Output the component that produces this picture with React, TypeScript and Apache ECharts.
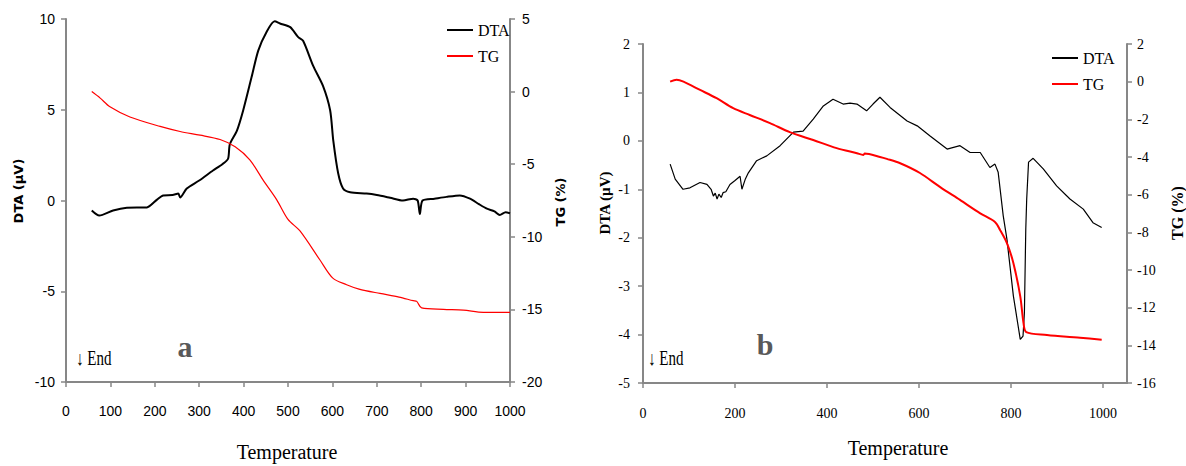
import React, { useEffect, useRef } from "react";
import * as echarts from "echarts";

// ---- Panel a ----
const dtaA_T = [58, 75, 106, 137, 182, 205, 219, 240, 253, 257, 272, 300, 331, 352, 365, 369, 385, 399, 418, 433, 452, 470, 482, 505, 523, 534, 557, 579, 595, 602, 613, 624, 640, 677, 700, 730, 759, 782, 792, 797, 803, 830, 857, 887, 910, 930, 948, 965, 977, 990, 1000];
const dtaA_V = [-0.55, -0.83, -0.55, -0.4, -0.38, 0.05, 0.28, 0.3, 0.38, 0.17, 0.66, 1.1, 1.65, 2.0, 2.3, 3.1, 3.85, 4.96, 6.8, 8.26, 9.3, 9.87, 9.75, 9.55, 9.0, 8.8, 7.4, 6.3, 4.96, 3.3, 1.5, 0.66, 0.45, 0.38, 0.3, 0.15, 0.0, 0.1, 0.0, -0.75, 0.0, 0.1, 0.2, 0.28, 0.1, -0.2, -0.45, -0.6, -0.8, -0.65, -0.7];
const tgA_T = [58, 77, 99, 144, 212, 257, 302, 347, 381, 414, 444, 475, 500, 527, 572, 601, 632, 660, 707, 750, 782, 790, 801, 850, 895, 940, 1000];
const tgA_V = [0, -0.45, -1.05, -1.75, -2.4, -2.75, -3.0, -3.3, -3.8, -4.7, -6.1, -7.47, -8.8, -9.6, -11.6, -12.85, -13.3, -13.6, -13.9, -14.15, -14.4, -14.45, -14.9, -15.0, -15.05, -15.2, -15.2];

// ---- Panel b ----
const dtaB_T = [59, 70, 87, 102, 124, 139, 148, 153, 157, 161, 165, 170, 174, 180, 189, 200, 211, 215, 222, 229, 247, 269, 298, 327, 348, 370, 392, 413, 435, 450, 465, 486, 500, 515, 537, 574, 596, 624, 661, 689, 711, 733, 754, 765, 772, 783, 791, 805, 820, 826, 829, 832, 834, 838, 848, 870, 899, 928, 957, 978, 997];
const dtaB_V = [-0.48, -0.79, -1.0, -0.97, -0.86, -0.9, -1.0, -1.14, -1.08, -1.2, -1.1, -1.17, -1.07, -1.05, -0.9, -0.82, -0.73, -1.0, -0.8, -0.66, -0.41, -0.31, -0.1, 0.18, 0.2, 0.45, 0.72, 0.86, 0.76, 0.78, 0.76, 0.62, 0.76, 0.9, 0.69, 0.41, 0.31, 0.1, -0.17, -0.1, -0.24, -0.24, -0.55, -0.48, -0.65, -1.55, -2.03, -3.2, -4.1, -4.03, -3.55, -1.82, -1.2, -0.44, -0.36, -0.58, -0.93, -1.2, -1.41, -1.69, -1.79];
const tgB_T = [59, 73, 88, 124, 160, 196, 232, 276, 319, 370, 421, 465, 479, 482, 515, 530, 559, 602, 646, 689, 733, 765, 776, 791, 805, 820, 827, 833, 878, 921, 950, 997];
const tgB_V = [0, 0.1, 0, -0.44, -0.88, -1.41, -1.77, -2.2, -2.68, -3.1, -3.53, -3.8, -3.89, -3.82, -4.0, -4.1, -4.33, -4.85, -5.6, -6.28, -6.99, -7.45, -7.87, -8.57, -9.63, -11.4, -12.8, -13.3, -13.45, -13.55, -13.6, -13.7];

const xTicksB = [0, 200, 400, 600, 800, 1000];

const zip = (t: number[], v: number[]) => t.map((x, i) => [x, v[i]]);

const SERIF = "'Liberation Serif', 'Times New Roman', serif";
const NARROW = "'Liberation Sans Narrow', 'Arial Narrow', 'Liberation Sans', sans-serif";
const BOLDSANS = "'DejaVu Sans', Verdana, sans-serif";
const AXIS_COLOR = "#878787";

export default function App() {
  const ref = useRef<HTMLDivElement>(null);
  useEffect(() => {
    if (!ref.current) return;
    const chart = echarts.init(ref.current, null, { renderer: "svg" });
    const axisLine = { show: true, onZero: false, lineStyle: { color: AXIS_COLOR, width: 2 } };
    const axisTick = { show: true, inside: false, length: 5, lineStyle: { color: AXIS_COLOR, width: 1.5 } };
    const plain = (v: number) => String(v);
    const labA = { color: "#000", fontFamily: NARROW, fontSize: 14, formatter: plain };
    const labB = { color: "#000", fontFamily: SERIF, fontSize: 14, formatter: plain };
    const legendBase = {
      orient: "vertical", padding: 0, icon: "rect",
      itemWidth: 26, itemHeight: 2, itemGap: 10,
      textStyle: { fontFamily: SERIF, fontSize: 16, color: "#000" },
    };
    const option: any = {
      animation: false,
      grid: [
        { left: 66, top: 19, width: 444, height: 363 },
        { left: 643, top: 44, width: 484, height: 339 },
      ],
      xAxis: [
        {
          gridIndex: 0, type: "value", min: 0, max: 1000, interval: 100,
          axisLine, axisTick, splitLine: { show: false },
          axisLabel: { ...labA, margin: 22 },
        },
        {
          gridIndex: 1, type: "value", min: 0, max: 1052, interval: 200,
          axisLine,
          axisTick: { ...axisTick, customValues: xTicksB },
          splitLine: { show: false },
          axisLabel: { ...labB, margin: 23, customValues: xTicksB },
        },
      ],
      yAxis: [
        {
          gridIndex: 0, type: "value", position: "left", min: -10, max: 10, interval: 5,
          axisLine, axisTick, splitLine: { show: false }, axisLabel: { ...labA, margin: 11 },
        },
        {
          gridIndex: 0, type: "value", position: "right", min: -20, max: 5, interval: 5,
          axisLine, axisTick, splitLine: { show: false }, axisLabel: { ...labA, margin: 12 },
        },
        {
          gridIndex: 1, type: "value", position: "left", min: -5, max: 2, interval: 1,
          axisLine, axisTick, splitLine: { show: false }, axisLabel: { ...labB, margin: 13 },
        },
        {
          gridIndex: 1, type: "value", position: "right", min: -16, max: 2, interval: 2,
          axisLine, axisTick, splitLine: { show: false }, axisLabel: { ...labB, margin: 10 },
        },
      ],
      legend: [
        { ...legendBase, data: ["DTA", "TG"], left: 447, top: 22 },
        {
          ...legendBase, data: ["DTA b", "TG b"], left: 1052, top: 50,
          formatter: (n: string) => n.split(" ")[0],
        },
      ],
      series: [
        {
          name: "DTA", type: "line", xAxisIndex: 0, yAxisIndex: 0, data: zip(dtaA_T, dtaA_V),
          showSymbol: false, symbol: "none", smooth: 0.25,
          lineStyle: { color: "#000", width: 2 }, itemStyle: { color: "#000" },
        },
        {
          name: "TG", type: "line", xAxisIndex: 0, yAxisIndex: 1, data: zip(tgA_T, tgA_V),
          showSymbol: false, symbol: "none", smooth: 0.3,
          lineStyle: { color: "#ff0000", width: 1.2 }, itemStyle: { color: "#ff0000" },
        },
        {
          name: "DTA b", type: "line", xAxisIndex: 1, yAxisIndex: 2, data: zip(dtaB_T, dtaB_V),
          showSymbol: false, symbol: "none",
          lineStyle: { color: "#000", width: 1.2 }, itemStyle: { color: "#000" },
        },
        {
          name: "TG b", type: "line", xAxisIndex: 1, yAxisIndex: 3, data: zip(tgB_T, tgB_V),
          showSymbol: false, symbol: "none", smooth: 0.3,
          lineStyle: { color: "#ff0000", width: 2 }, itemStyle: { color: "#ff0000" },
        },
      ],
      graphic: [
        { type: "text", x: 18, y: 191, rotation: Math.PI / 2, style: { text: "DTA (µV)", font: `bold 13px ${BOLDSANS}`, fill: "#000", textAlign: "center", textVerticalAlign: "middle" } },
        { type: "text", x: 560, y: 202, rotation: Math.PI / 2, style: { text: "TG (%)", font: `bold 13px ${BOLDSANS}`, fill: "#000", textAlign: "center", textVerticalAlign: "middle" } },
        { type: "text", x: 605, y: 203, rotation: Math.PI / 2, style: { text: "DTA (µV)", font: `bold 15px ${SERIF}`, fill: "#000", textAlign: "center", textVerticalAlign: "middle" } },
        { type: "text", x: 1177, y: 213, rotation: Math.PI / 2, style: { text: "TG (%)", font: `bold 16px ${SERIF}`, fill: "#000", textAlign: "center", textVerticalAlign: "middle" } },
        { type: "text", x: 287, y: 452, style: { text: "Temperature", font: `20px ${SERIF}`, fill: "#000", textAlign: "center", textVerticalAlign: "middle" } },
        { type: "text", x: 898, y: 448, style: { text: "Temperature", font: `20px ${SERIF}`, fill: "#000", textAlign: "center", textVerticalAlign: "middle" } },
        { type: "text", x: 185, y: 346, style: { text: "a", font: `bold 30px ${SERIF}`, fill: "#595959", textAlign: "center", textVerticalAlign: "middle" } },
        { type: "text", x: 765, y: 344, style: { text: "b", font: `bold 30px ${SERIF}`, fill: "#595959", textAlign: "center", textVerticalAlign: "middle" } },
        { type: "text", x: 76, y: 358, scaleX: 0.75, style: { text: "↓ End", font: `20px ${SERIF}`, fill: "#000", textAlign: "left", textVerticalAlign: "middle" } },
        { type: "text", x: 648, y: 358, scaleX: 0.75, style: { text: "↓ End", font: `20px ${SERIF}`, fill: "#000", textAlign: "left", textVerticalAlign: "middle" } },
      ],
    };
    chart.setOption(option);
    return () => chart.dispose();
  }, []);
  return (
    <div
      ref={ref}
      style={{ position: "fixed", left: 0, top: 0, width: 1186, height: 466, background: "#fff" }}
    />
  );
}
